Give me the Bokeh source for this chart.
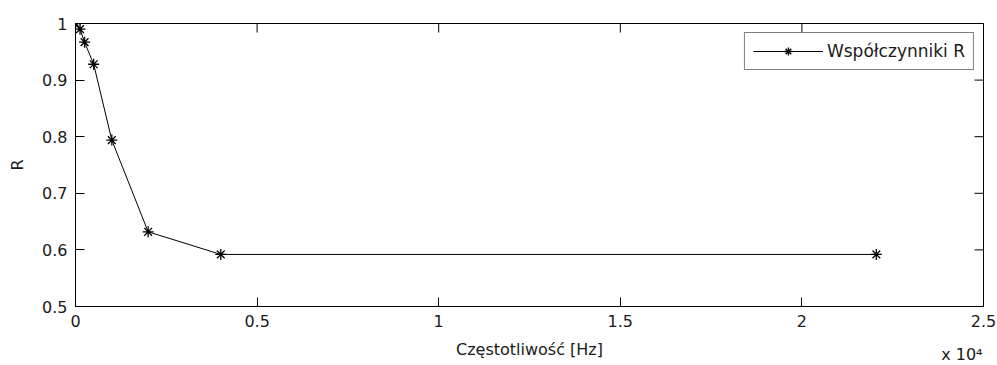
import math
from bokeh.plotting import figure
from bokeh.models import (LinearAxis, FixedTicker, Range1d, Title, Legend, LegendItem)
from bokeh.embed import file_html
from bokeh.resources import INLINE

# Reflection coefficient R versus frequency
freq_hz = [0, 125, 250, 500, 1000, 2000, 4000, 22050]
r_values = [1.0, 0.99, 0.967, 0.928, 0.794, 0.632, 0.592, 0.592]

x_ticks = [0, 5000, 10000, 15000, 20000, 25000]
x_tick_labels = ["0", "0.5", "1", "1.5", "2", "2.5"]
y_ticks = [0.5, 0.6, 0.7, 0.8, 0.9, 1.0]
y_tick_labels = ["0.5", "0.6", "0.7", "0.8", "0.9", "1"]

FONT = "DejaVu Sans"
FS = "16px"
TXT = "#1a1a1a"
TICK_LEN = 9

x0, x1 = 0, 25000
y0, y1 = 0.5, 1.0

p = figure(width=997, height=365, output_backend="svg", toolbar_location=None,
           x_range=Range1d(x0, x1), y_range=Range1d(y0, y1),
           x_axis_location=None, y_axis_location=None,
           min_border_left=75, min_border_right=14,
           min_border_top=23, min_border_bottom=59)
p.outline_line_color = "black"
p.outline_line_width = 1
p.xgrid.visible = False
p.ygrid.visible = False
p.background_fill_color = "white"
p.border_fill_color = "white"


def style_axis(ax, ticks, labels):
    ax.ticker = FixedTicker(ticks=ticks)
    ax.major_label_overrides = {t: l for t, l in zip(ticks, labels)}
    ax.major_tick_in = TICK_LEN
    ax.major_tick_out = 0
    ax.minor_tick_line_color = None
    ax.axis_line_color = "black"
    ax.major_tick_line_color = "black"
    ax.major_label_text_font = FONT
    ax.major_label_text_color = TXT
    ax.major_label_text_font_size = FS
    ax.axis_label_text_font = FONT
    ax.axis_label_text_font_size = FS
    ax.axis_label_text_font_style = "normal"
    ax.axis_label_text_color = TXT


bottom = LinearAxis(axis_label="Częstotliwość [Hz]")
style_axis(bottom, x_ticks, x_tick_labels)
bottom.major_label_standoff = 8
bottom.axis_label_standoff = 10
p.add_layout(bottom, "below")

left = LinearAxis(axis_label="R")
style_axis(left, y_ticks, y_tick_labels)
left.major_label_standoff = 8
left.axis_label_standoff = 12
p.add_layout(left, "left")

# exponent of the frequency axis, pulled up beside the axis label
exponent = Title(text="x 10\u2074", align="right", offset=1, standoff=-34,
                 vertical_align="top", text_baseline="top",
                 text_font=FONT, text_font_size="16px",
                 text_font_style="normal", text_color=TXT)
p.add_layout(exponent, "below")

# inward ticks on the top and right edges of the box (the outer half of each
# dash is clipped by the frame)
p.scatter(x_ticks, [y1] * len(x_ticks), marker="dash", size=2 * TICK_LEN,
          angle=math.pi / 2, line_color="black", line_width=1)
p.scatter([x1] * len(y_ticks), y_ticks, marker="dash", size=2 * TICK_LEN,
          line_color="black", line_width=1)

line = p.line(freq_hz, r_values, line_color="black", line_width=1)
pts = p.scatter(freq_hz, r_values, marker="asterisk", size=11,
                line_color="black", line_width=1.3)

legend = Legend(items=[LegendItem(label="Współczynniki R", renderers=[line, pts])],
                location="top_right")
legend.glyph_width = 70
legend.label_text_font = FONT
legend.label_text_font_size = "17px"
legend.label_text_color = TXT
legend.border_line_color = "black"
legend.border_line_width = 1
legend.margin = 9
legend.padding = 8
legend.label_standoff = 4
legend.background_fill_alpha = 1
p.add_layout(legend)

open("out.html", "w").write(file_html(p, INLINE))
